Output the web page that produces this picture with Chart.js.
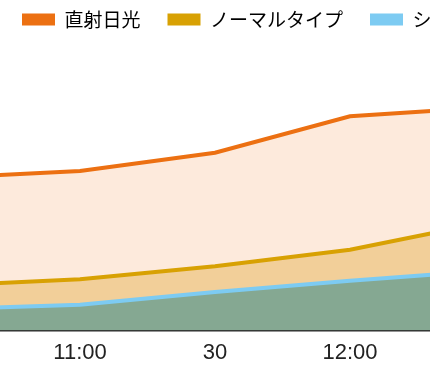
<!DOCTYPE html>
<html>
<head>
<meta charset="utf-8">
<script src="https://cdn.jsdelivr.net/npm/chart.js@4/dist/chart.umd.min.js"></script>
<style>
  html, body { margin: 0; padding: 0; background: #fff; }
  #wrap { position: relative; width: 430px; height: 365px; overflow: hidden; }
  #c { position: absolute; left: -5px; top: -17px; }
</style>
</head>
<body>
<div id="wrap"><canvas id="c" width="700" height="392"></canvas></div>
<script>
// Data (y in relative units 0-100)
const times = ['10:30', '11:00', '11:30', '12:00', '12:30'];
const seriesNames = ['直射日光', 'ノーマルタイプ', 'シースルータイプ'];
const direct  = [52.4, 54.7, 61.0, 73.5, 76.5];
const normal  = [15.4, 17.6, 22.1, 27.7, 37.1];
const seeThru = [7.3, 8.9, 13.2, 17.1, 20.5];
const tickTimes = ['11:00', '11:30', '12:00'];

const toMin = s => { const [h, m] = s.split(':').map(Number); return h * 60 + m; };
const pts = arr => arr.map((v, i) => ({ x: toMin(times[i]), y: v }));

new Chart(document.getElementById('c'), {
  type: 'line',
  data: {
    datasets: [
      { label: seriesNames[0], data: pts(direct), borderColor: '#ec7012', backgroundColor: '#fdeadc',
        fill: '+1', borderWidth: 4, pointRadius: 0, tension: 0 },
      { label: seriesNames[1], data: pts(normal), borderColor: '#d8a103', backgroundColor: '#f2cf99',
        fill: '+1', borderWidth: 4, pointRadius: 0, tension: 0 },
      { label: seriesNames[2], data: pts(seeThru), borderColor: '#7dcbf2', backgroundColor: '#85a892',
        fill: 'origin', borderWidth: 4, pointRadius: 0, tension: 0 }
    ]
  },
  options: {
    responsive: false,
    animation: false,
    layout: { padding: 0 },
    plugins: {
      filler: { drawTime: 'beforeDatasetsDraw' },
      tooltip: { enabled: false },
      legend: {
        display: true,
        position: 'top',
        align: 'start',
        labels: {
          boxWidth: 33,
          boxHeight: 12,
          padding: 27,
          color: '#333',
          font: { family: '"Noto Sans CJK JP", sans-serif', size: 19 },
          generateLabels: chart => chart.data.datasets.map((d, i) => ({
            text: d.label, fillStyle: d.borderColor, strokeStyle: d.borderColor,
            lineWidth: 0, hidden: false, datasetIndex: i
          }))
        }
      }
    },
    scales: {
      x: {
        type: 'linear',
        min: 641.11,
        max: 796.67,
        grid: { display: false, drawTicks: false },
        border: { display: true, color: '#2a2a2a', width: 1.5 },
        afterBuildTicks: s => { s.ticks = tickTimes.map(t => ({ value: toMin(t) })); },
        ticks: {
          padding: 9,
          color: '#222',
          font: { family: '"Liberation Sans", Arial, sans-serif', size: 22 },
          maxRotation: 0,
          autoSkip: false,
          callback: v => (v % 60 === 0 ? (v / 60) + ':00' : String(v % 60))
        }
      },
      y: {
        display: false,
        min: 0,
        max: 100
      }
    }
  }
});
</script>
</body>
</html>
